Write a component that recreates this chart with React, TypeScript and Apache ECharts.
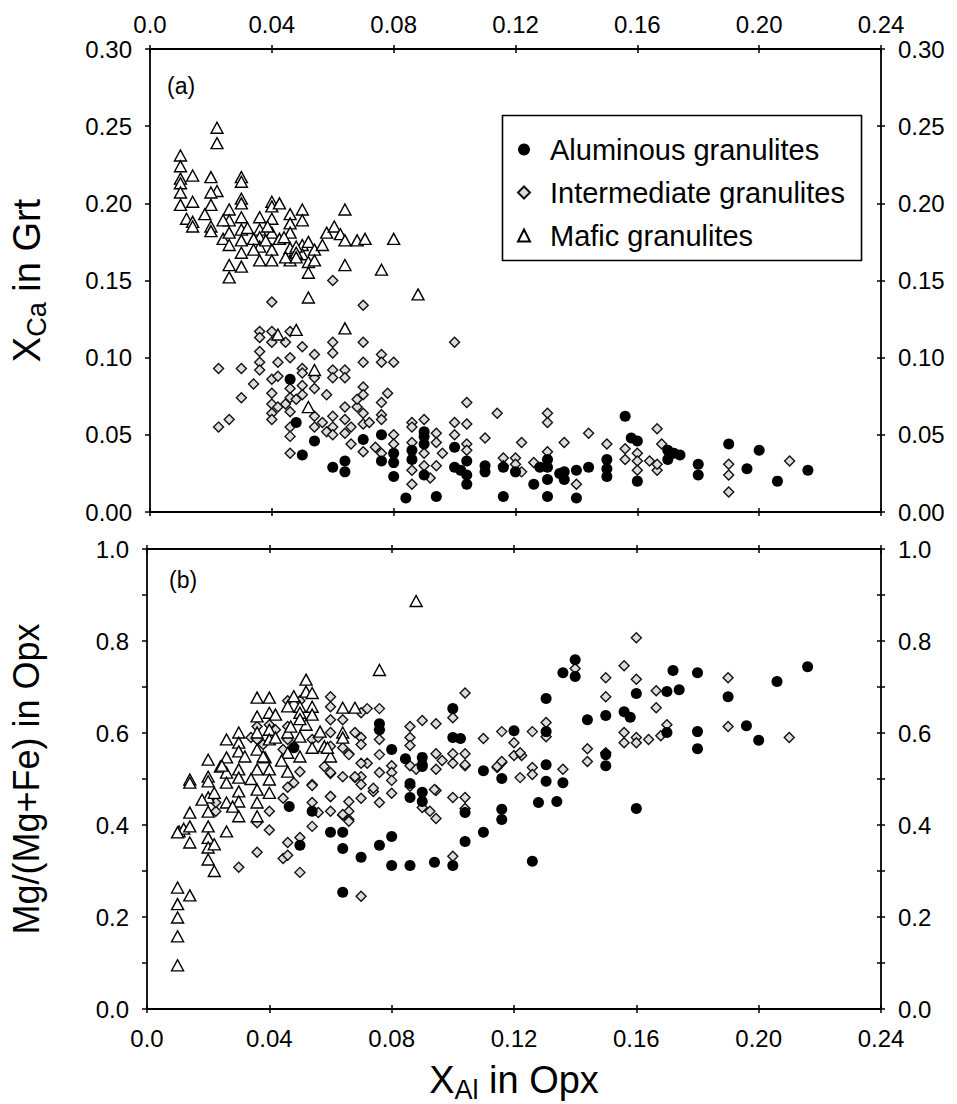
import React, { useEffect, useRef } from 'react';
import * as echarts from 'echarts';

const FONT = '"Liberation Sans", Arial, Helvetica, sans-serif';

// ---------- tick labels ----------
const xTickValues = [0, 0.04, 0.08, 0.12, 0.16, 0.2, 0.24];
const xTickLabels = ['0.0', '0.04', '0.08', '0.12', '0.16', '0.20', '0.24'];
const yTicksA = ['0.00', '0.05', '0.10', '0.15', '0.20', '0.25', '0.30'];
const yTicksB = ['0.0', '0.2', '0.4', '0.6', '0.8', '1.0'];

const seriesNames = ['Aluminous granulites', 'Intermediate granulites', 'Mafic granulites'];

// ---------- panel (a): X_Ca in Grt ----------
const aluminousA: number[][] = [
  [0.046, 0.086], [0.048, 0.058], [0.054, 0.046], [0.05, 0.037], [0.06, 0.029], [0.064, 0.033],
  [0.064, 0.026], [0.07, 0.047], [0.076, 0.05], [0.076, 0.033], [0.08, 0.038], [0.08, 0.032],
  [0.08, 0.023], [0.084, 0.009], [0.086, 0.04], [0.086, 0.034], [0.09, 0.052], [0.09, 0.049],
  [0.09, 0.044], [0.09, 0.024], [0.094, 0.01], [0.1, 0.042], [0.1, 0.029], [0.102, 0.027],
  [0.104, 0.033], [0.104, 0.024], [0.104, 0.018], [0.11, 0.03], [0.11, 0.026], [0.116, 0.029],
  [0.116, 0.01], [0.12, 0.026], [0.126, 0.018], [0.128, 0.029], [0.1305, 0.034], [0.1305, 0.029],
  [0.1305, 0.021], [0.1305, 0.01], [0.1345, 0.025], [0.136, 0.026], [0.136, 0.021], [0.14, 0.027],
  [0.14, 0.009], [0.144, 0.029], [0.15, 0.034], [0.15, 0.028], [0.15, 0.023], [0.156, 0.062],
  [0.158, 0.048], [0.16, 0.046], [0.16, 0.02], [0.17, 0.04], [0.172, 0.038], [0.174, 0.037],
  [0.17, 0.034], [0.18, 0.031], [0.18, 0.024], [0.19, 0.044], [0.196, 0.028], [0.2, 0.04],
  [0.206, 0.02], [0.216, 0.027]
];

const intermediateA: number[][] = [
  [0.06, 0.15], [0.04, 0.136], [0.07, 0.134], [0.1, 0.11], [0.036, 0.117], [0.04, 0.117],
  [0.046, 0.117], [0.036, 0.113], [0.04, 0.11], [0.0445, 0.11], [0.036, 0.104], [0.036, 0.097],
  [0.036, 0.092], [0.042, 0.097], [0.046, 0.1], [0.05, 0.107], [0.054, 0.102], [0.06, 0.11],
  [0.06, 0.103], [0.07, 0.11], [0.07, 0.097], [0.076, 0.102], [0.076, 0.097], [0.08, 0.097],
  [0.0225, 0.093], [0.03, 0.093], [0.034, 0.083], [0.03, 0.074], [0.0225, 0.055], [0.026, 0.06],
  [0.04, 0.086], [0.042, 0.088], [0.04, 0.077], [0.04, 0.07], [0.04, 0.064], [0.04, 0.06],
  [0.042, 0.068], [0.0445, 0.07], [0.046, 0.08], [0.046, 0.074], [0.046, 0.065], [0.046, 0.055],
  [0.046, 0.049], [0.046, 0.038], [0.048, 0.073], [0.05, 0.082], [0.05, 0.076], [0.05, 0.093],
  [0.05, 0.09], [0.054, 0.087], [0.054, 0.08], [0.054, 0.062], [0.054, 0.055], [0.0566, 0.058],
  [0.058, 0.076], [0.058, 0.052], [0.06, 0.092], [0.06, 0.087], [0.06, 0.062], [0.06, 0.055],
  [0.06, 0.05], [0.064, 0.092], [0.064, 0.087], [0.064, 0.068], [0.064, 0.06], [0.064, 0.051],
  [0.066, 0.044], [0.066, 0.055], [0.068, 0.068], [0.068, 0.073], [0.07, 0.081], [0.07, 0.076],
  [0.07, 0.064], [0.07, 0.057], [0.07, 0.039], [0.072, 0.058], [0.074, 0.042], [0.076, 0.071],
  [0.076, 0.063], [0.076, 0.06], [0.076, 0.038], [0.078, 0.077], [0.08, 0.05], [0.08, 0.044],
  [0.086, 0.058], [0.086, 0.055], [0.086, 0.045], [0.086, 0.027], [0.086, 0.018], [0.09, 0.06],
  [0.09, 0.038], [0.09, 0.03], [0.092, 0.022], [0.094, 0.051], [0.094, 0.045], [0.094, 0.03],
  [0.096, 0.038], [0.1, 0.058], [0.1, 0.05], [0.104, 0.071], [0.104, 0.057], [0.104, 0.044],
  [0.104, 0.04], [0.11, 0.048], [0.114, 0.064], [0.116, 0.035], [0.116, 0.03], [0.12, 0.035],
  [0.12, 0.031], [0.122, 0.045], [0.122, 0.026], [0.126, 0.032], [0.1305, 0.064], [0.1305, 0.058],
  [0.1305, 0.039], [0.136, 0.045], [0.14, 0.018], [0.144, 0.051], [0.15, 0.044], [0.156, 0.041],
  [0.156, 0.034], [0.16, 0.038], [0.16, 0.033], [0.16, 0.027], [0.164, 0.033], [0.1665, 0.054],
  [0.1665, 0.027], [0.168, 0.044], [0.1665, 0.031], [0.19, 0.031], [0.19, 0.024], [0.19, 0.013],
  [0.21, 0.033]
];

const maficA: number[][] = [
  [0.022, 0.249], [0.022, 0.239], [0.01, 0.231], [0.01, 0.224], [0.01, 0.216], [0.01, 0.213],
  [0.014, 0.218], [0.02, 0.217], [0.03, 0.217], [0.03, 0.214], [0.03, 0.203], [0.03, 0.2],
  [0.01, 0.207], [0.01, 0.199], [0.014, 0.201], [0.022, 0.208], [0.02, 0.207], [0.02, 0.199],
  [0.012, 0.19], [0.014, 0.188], [0.014, 0.185], [0.018, 0.193], [0.02, 0.185], [0.02, 0.182],
  [0.024, 0.177], [0.026, 0.196], [0.026, 0.189], [0.026, 0.181], [0.026, 0.173], [0.024, 0.189],
  [0.03, 0.191], [0.03, 0.183], [0.03, 0.176], [0.03, 0.168], [0.032, 0.184], [0.026, 0.16],
  [0.026, 0.152], [0.03, 0.159], [0.036, 0.191], [0.036, 0.183], [0.036, 0.178], [0.036, 0.172],
  [0.036, 0.163], [0.04, 0.201], [0.04, 0.198], [0.0425, 0.2], [0.04, 0.19], [0.04, 0.181],
  [0.04, 0.17], [0.04, 0.163], [0.0386, 0.185], [0.0425, 0.177], [0.046, 0.193], [0.046, 0.187],
  [0.046, 0.181], [0.046, 0.171], [0.046, 0.163], [0.0445, 0.165], [0.05, 0.196], [0.05, 0.189],
  [0.05, 0.173], [0.05, 0.167], [0.052, 0.175], [0.052, 0.162], [0.052, 0.155], [0.054, 0.17],
  [0.054, 0.163], [0.0566, 0.173], [0.058, 0.181], [0.0605, 0.185], [0.0625, 0.18], [0.064, 0.176],
  [0.064, 0.196], [0.064, 0.16], [0.068, 0.176], [0.0706, 0.177], [0.08, 0.177], [0.076, 0.157],
  [0.088, 0.141], [0.048, 0.172], [0.048, 0.168], [0.052, 0.139], [0.048, 0.118], [0.064, 0.119],
  [0.042, 0.115], [0.054, 0.092], [0.052, 0.068], [0.034, 0.177], [0.038, 0.176], [0.044, 0.178],
  [0.048, 0.165], [0.034, 0.17]
];

// ---------- panel (b): Mg/(Mg+Fe) in Opx ----------
const aluminousB: number[][] = [
  [0.14, 0.759], [0.136, 0.731], [0.14, 0.723], [0.172, 0.736], [0.18, 0.731], [0.216, 0.744],
  [0.206, 0.712], [0.1305, 0.675], [0.16, 0.686], [0.17, 0.69], [0.174, 0.694], [0.19, 0.679],
  [0.156, 0.646], [0.158, 0.634], [0.15, 0.638], [0.144, 0.629], [0.196, 0.616], [0.2, 0.584],
  [0.18, 0.603], [0.18, 0.566], [0.17, 0.601], [0.1305, 0.603], [0.12, 0.605], [0.15, 0.553],
  [0.15, 0.529], [0.1305, 0.531], [0.11, 0.518], [0.116, 0.501], [0.1305, 0.495], [0.136, 0.492],
  [0.1, 0.653], [0.1, 0.59], [0.1025, 0.588], [0.076, 0.62], [0.076, 0.607], [0.08, 0.564],
  [0.0845, 0.544], [0.09, 0.547], [0.09, 0.527], [0.086, 0.49], [0.086, 0.46], [0.09, 0.471],
  [0.09, 0.451], [0.104, 0.427], [0.116, 0.434], [0.116, 0.412], [0.11, 0.384], [0.064, 0.384],
  [0.06, 0.384], [0.08, 0.375], [0.0465, 0.44], [0.054, 0.43], [0.05, 0.356], [0.064, 0.349],
  [0.07, 0.33], [0.076, 0.356], [0.08, 0.312], [0.086, 0.312], [0.094, 0.319], [0.1, 0.312],
  [0.104, 0.364], [0.126, 0.321], [0.064, 0.254], [0.128, 0.449], [0.09, 0.531], [0.048, 0.568],
  [0.16, 0.436], [0.134, 0.451]
];

const intermediateB: number[][] = [
  [0.16, 0.807], [0.156, 0.746], [0.14, 0.74], [0.15, 0.72], [0.16, 0.717], [0.19, 0.72],
  [0.15, 0.679], [0.1665, 0.692], [0.1665, 0.655], [0.1305, 0.623], [0.1305, 0.592], [0.17, 0.618],
  [0.168, 0.594], [0.19, 0.614], [0.21, 0.59], [0.156, 0.601], [0.156, 0.579], [0.16, 0.59],
  [0.16, 0.579], [0.164, 0.586], [0.144, 0.566], [0.144, 0.538], [0.15, 0.557], [0.136, 0.521],
  [0.116, 0.603], [0.11, 0.588], [0.12, 0.579], [0.126, 0.603], [0.12, 0.551], [0.1225, 0.551],
  [0.116, 0.536], [0.1145, 0.525], [0.126, 0.525], [0.122, 0.503], [0.126, 0.51], [0.104, 0.687],
  [0.1, 0.633], [0.09, 0.627], [0.0945, 0.62], [0.086, 0.614], [0.086, 0.59], [0.086, 0.573],
  [0.076, 0.653], [0.076, 0.607], [0.076, 0.586], [0.07, 0.644], [0.072, 0.653], [0.07, 0.59],
  [0.07, 0.575], [0.064, 0.629], [0.064, 0.568], [0.066, 0.555], [0.06, 0.679], [0.06, 0.657],
  [0.06, 0.629], [0.06, 0.601], [0.06, 0.571], [0.06, 0.512], [0.06, 0.462], [0.06, 0.43],
  [0.064, 0.505], [0.07, 0.505], [0.068, 0.503], [0.07, 0.488], [0.072, 0.534], [0.076, 0.553],
  [0.076, 0.514], [0.076, 0.449], [0.074, 0.473], [0.07, 0.458], [0.066, 0.451], [0.066, 0.43],
  [0.066, 0.412], [0.064, 0.421], [0.08, 0.529], [0.08, 0.514], [0.08, 0.497], [0.08, 0.469],
  [0.086, 0.529], [0.088, 0.521], [0.0945, 0.555], [0.0945, 0.521], [0.0945, 0.475], [0.0965, 0.54],
  [0.1, 0.555], [0.1, 0.534], [0.104, 0.555], [0.104, 0.529], [0.1, 0.46], [0.104, 0.46],
  [0.09, 0.438], [0.0925, 0.43], [0.0945, 0.414], [0.046, 0.67], [0.05, 0.67], [0.034, 0.59],
  [0.036, 0.614], [0.04, 0.618], [0.042, 0.607], [0.046, 0.614], [0.0445, 0.564], [0.046, 0.586],
  [0.048, 0.571], [0.054, 0.586], [0.056, 0.59], [0.038, 0.575], [0.036, 0.586], [0.066, 0.553],
  [0.068, 0.601], [0.07, 0.534], [0.05, 0.516], [0.054, 0.488], [0.048, 0.492], [0.046, 0.482],
  [0.058, 0.527], [0.06, 0.514], [0.068, 0.505], [0.074, 0.48], [0.054, 0.486], [0.0445, 0.458],
  [0.04, 0.43], [0.036, 0.405], [0.04, 0.389], [0.036, 0.341], [0.03, 0.308], [0.0445, 0.327],
  [0.046, 0.334], [0.046, 0.362], [0.05, 0.373], [0.05, 0.297], [0.054, 0.397], [0.054, 0.449],
  [0.056, 0.427], [0.06, 0.462], [0.064, 0.423], [0.066, 0.408], [0.07, 0.245], [0.1, 0.332],
  [0.104, 0.436], [0.0225, 0.43], [0.0225, 0.449], [0.094, 0.477], [0.086, 0.484], [0.104, 0.531],
  [0.1145, 0.527], [0.116, 0.538], [0.122, 0.557]
];

const maficB: number[][] = [
  [0.088, 0.887], [0.076, 0.737], [0.052, 0.716], [0.052, 0.69], [0.054, 0.687], [0.036, 0.677],
  [0.04, 0.677], [0.036, 0.636], [0.04, 0.644], [0.046, 0.658], [0.05, 0.657], [0.05, 0.644],
  [0.054, 0.657], [0.054, 0.64], [0.064, 0.655], [0.068, 0.655], [0.064, 0.601], [0.064, 0.59],
  [0.058, 0.571], [0.06, 0.549], [0.026, 0.586], [0.03, 0.601], [0.03, 0.579], [0.03, 0.56],
  [0.026, 0.547], [0.02, 0.542], [0.032, 0.549], [0.036, 0.601], [0.036, 0.564], [0.036, 0.521],
  [0.04, 0.607], [0.04, 0.586], [0.04, 0.521], [0.042, 0.59], [0.046, 0.601], [0.046, 0.557],
  [0.046, 0.516], [0.05, 0.592], [0.05, 0.549], [0.054, 0.568], [0.0566, 0.603], [0.052, 0.618],
  [0.0386, 0.547], [0.014, 0.499], [0.02, 0.505], [0.024, 0.527], [0.026, 0.514], [0.03, 0.521],
  [0.03, 0.503], [0.014, 0.427], [0.0105, 0.386], [0.012, 0.392], [0.014, 0.397], [0.014, 0.362],
  [0.02, 0.397], [0.02, 0.372], [0.02, 0.351], [0.022, 0.358], [0.02, 0.325], [0.022, 0.3],
  [0.026, 0.386], [0.02, 0.429], [0.02, 0.46], [0.018, 0.455], [0.022, 0.47], [0.026, 0.449],
  [0.026, 0.492], [0.03, 0.473], [0.03, 0.451], [0.03, 0.419], [0.036, 0.449], [0.036, 0.419],
  [0.036, 0.477], [0.04, 0.47], [0.014, 0.492], [0.02, 0.495], [0.01, 0.264], [0.01, 0.228],
  [0.01, 0.199], [0.01, 0.158], [0.01, 0.095], [0.014, 0.247], [0.01, 0.384], [0.0245, 0.529],
  [0.04, 0.499], [0.047, 0.614], [0.042, 0.64], [0.05, 0.63], [0.059, 0.568], [0.038, 0.549],
  [0.044, 0.54], [0.034, 0.5], [0.028, 0.44], [0.048, 0.68]
];

// ---------- styles ----------
const black = '#000';
const axisLine = { show: true, onZero: false, lineStyle: { color: black, width: 1.8 } };
const noLine = { show: false, onZero: false };
const labelStyle = { fontFamily: FONT, fontSize: 24, color: black };

const xFormatter = (v: number) => {
  const i = xTickValues.findIndex((t) => Math.abs(t - v) < 1e-9);
  return i >= 0 ? xTickLabels[i] : '';
};
const yFormatterA = (v: number) => yTicksA[Math.round(v / 0.05)] ?? '';
const yFormatterB = (v: number) => {
  const k = Math.round(v * 10);
  return k % 2 === 0 ? yTicksB[k / 2] : '';
};

function xAxis(grid: number, position: 'top' | 'bottom', inside: boolean, labels: boolean) {
  return {
    type: 'value', gridIndex: grid, position, min: 0, max: 0.24, interval: 0.04,
    axisLine: inside ? axisLine : noLine,
    axisTick: { show: true, inside, length: 4, lineStyle: { color: black, width: 1.5 } },
    axisLabel: { show: labels, margin: position === 'top' ? 13 : 17, formatter: xFormatter, ...labelStyle },
    splitLine: { show: false },
  } as any;
}

function yAxis(grid: number, position: 'left' | 'right', inside: boolean, labels: boolean, panel: 'a' | 'b', len = 4) {
  return {
    type: 'value', gridIndex: grid, position, min: 0,
    max: panel === 'a' ? 0.3 : 1.0, interval: panel === 'a' ? 0.05 : 0.1,
    axisLine: inside || (labels && position === 'left') ? axisLine : noLine,
    axisTick: { show: true, inside, length: len, lineStyle: { color: black, width: 1.5 } },
    axisLabel: {
      show: labels, margin: position === 'left' ? 18 : 17,
      formatter: panel === 'a' ? yFormatterA : yFormatterB, ...labelStyle,
    },
    splitLine: { show: false },
  } as any;
}

const richTitle = {
  b: { fontFamily: FONT, fontSize: 38, color: black, lineHeight: 46 },
  s: { fontFamily: FONT, fontSize: 27, color: black, lineHeight: 20, verticalAlign: 'bottom' },
};
const richTitleMg = {
  b: { fontFamily: FONT, fontSize: 36, color: black, lineHeight: 46 },
};

const diamondStyle = { color: '#dcdcdc', borderColor: '#111', borderWidth: 1.4, opacity: 1 };
const triangleStyle = { color: '#fff', borderColor: '#000', borderWidth: 1.4, opacity: 1 };
const circleStyle = { color: '#000', opacity: 1 };

const option: any = {
  animation: false,
  backgroundColor: '#fff',
  grid: [
    { left: 147, top: 49, width: 734, height: 463 },
    { left: 147, top: 549, width: 734, height: 461 },
  ],
  xAxis: [
    xAxis(0, 'bottom', true, false),   // 0
    xAxis(0, 'bottom', false, false),  // 1
    xAxis(0, 'top', true, false),      // 2
    xAxis(0, 'top', false, true),      // 3
    xAxis(1, 'bottom', true, false),   // 4
    { ...xAxis(1, 'bottom', false, true), name: '{b|X}{s|Al}{b| in Opx}', nameLocation: 'middle', nameGap: 48, nameTextStyle: { rich: richTitle } }, // 5
    xAxis(1, 'top', true, false),      // 6
    xAxis(1, 'top', false, false),     // 7
  ],
  yAxis: [
    { ...yAxis(0, 'left', false, true, 'a', 5), name: '{b|X}{s|Ca}{b| in Grt}', nameLocation: 'middle', nameGap: 100, nameTextStyle: { rich: richTitle } }, // 0
    yAxis(0, 'right', true, false, 'a'),  // 1
    yAxis(0, 'right', false, true, 'a'),  // 2
    { ...yAxis(1, 'left', false, true, 'b', 5), name: '{b|Mg/(Mg+Fe) in Opx}', nameLocation: 'middle', nameGap: 98, nameTextStyle: { rich: richTitleMg } }, // 3
    yAxis(1, 'right', true, false, 'b'),  // 4
    yAxis(1, 'right', false, true, 'b'),  // 5
  ],
  legend: {
    orient: 'vertical', left: 512, top: 130, itemGap: 14,
    itemWidth: 12, itemHeight: 12,
    data: seriesNames,
    textStyle: { fontFamily: FONT, fontSize: 29, color: black, lineHeight: 28, padding: [0, 0, 0, 15] },
    selectedMode: false,
  },
  graphic: [
    { type: 'rect', left: 500, top: 113, shape: { width: 359, height: 145 }, style: { fill: 'none', stroke: black, lineWidth: 1.6 }, z: 10 },
    { type: 'text', left: 167, top: 74, style: { text: '(a)', font: `23px ${FONT}`, fill: black } },
    { type: 'text', left: 169, top: 568, style: { text: '(b)', font: `23px ${FONT}`, fill: black } },
  ],
  series: [
    { name: seriesNames[1], type: 'scatter', xAxisIndex: 0, yAxisIndex: 0, data: intermediateA, symbol: 'diamond', symbolSize: 10, itemStyle: diamondStyle },
    { name: seriesNames[2], type: 'scatter', xAxisIndex: 0, yAxisIndex: 0, data: maficA, symbol: 'triangle', symbolSize: [12, 11], itemStyle: triangleStyle },
    { name: seriesNames[0], type: 'scatter', xAxisIndex: 0, yAxisIndex: 0, data: aluminousA, symbol: 'circle', symbolSize: 11, itemStyle: circleStyle },
    { name: seriesNames[1], type: 'scatter', xAxisIndex: 4, yAxisIndex: 3, data: intermediateB, symbol: 'diamond', symbolSize: 10, itemStyle: diamondStyle },
    { name: seriesNames[2], type: 'scatter', xAxisIndex: 4, yAxisIndex: 3, data: maficB, symbol: 'triangle', symbolSize: [12, 11], itemStyle: triangleStyle },
    { name: seriesNames[0], type: 'scatter', xAxisIndex: 4, yAxisIndex: 3, data: aluminousB, symbol: 'circle', symbolSize: 11, itemStyle: circleStyle },
  ],
};

export default function App() {
  const ref = useRef<HTMLDivElement>(null);
  useEffect(() => {
    const chart = echarts.init(ref.current!, null, { renderer: 'svg' });
    chart.setOption(option);
    return () => chart.dispose();
  }, []);
  return <div ref={ref} style={{ position: 'absolute', left: 0, top: 0, width: 957, height: 1104 }} />;
}
